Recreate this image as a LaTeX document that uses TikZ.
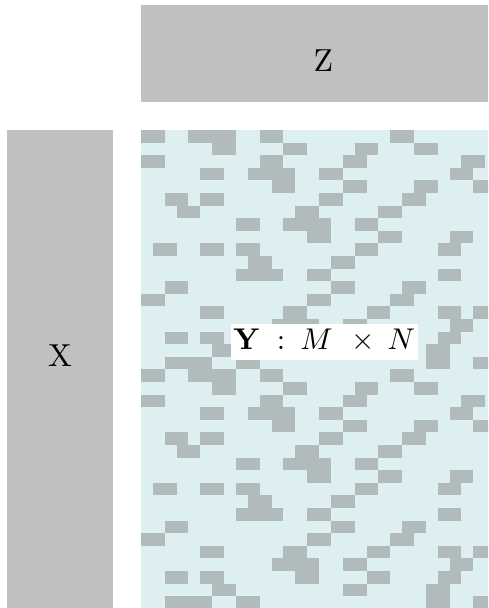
\documentclass[tikz,border=0pt]{standalone}
\usepackage{graphicx}
\definecolor{boxgray}{RGB}{192,192,192}
\definecolor{matbg}{RGB}{221,239,241}
\definecolor{cellgray}{RGB}{178,187,187}
\newcommand{\bigtxt}[1]{\scalebox{3.18}{\normalsize #1}}
\newcommand{\midtxt}[1]{\scalebox{3.0}{\normalsize #1}}
\tikzset{
  cellbox/.style={fill=cellgray},
  biglabel/.style={inner sep=0pt, anchor=base},
}
\begin{document}
\begin{tikzpicture}[x=1pt,y=-1pt]
\useasboundingbox (0,0) rectangle (488,608);
% Z box
\fill[boxgray] (141,5) rectangle (488,102);
% X box
\fill[boxgray] (7,130) rectangle (113,608);
% matrix background
\fill[matbg] (141,130) rectangle (488,608);
\begin{scope}
\clip (141,130) rectangle (488,608);
\foreach \r/\segs in {
 0/{0/2,4/8,10/12,21/23},
 1/{6/8,12/14,18/20,23/25},
 2/{0/2,10/12,17/19,27/29},
 3/{5/7,9/13,15/17,26/28},
 4/{11/13,17/19,23/25,28/30},
 5/{2/4,5/7,15/17,22/24},
 6/{3/5,13/15,20/22},
 7/{8/10,12/16,18/20},
 8/{14/16,20/22,26/28},
 9/{1/3,5/7,8/10,18/20,25/27},
 10/{9/11,16/18},
 11/{8/12,14/16,25/27},
 12/{2/4,16/18,22/24},
 13/{0/2,14/16,21/23},
 14/{5/7,12/14,19/21,25/27,28/30},
 15/{11/15,17/19,26/28},
 16/{2/4,5/7,13/15,19/21,25/27},
 17/{6/8,17/19,24/26},
 18/{2/6,8/10,24/26,28/30}} {
  \foreach \a/\b in \segs {
    \fill[cellbox] ({141+11.87*\a},{130+12.6*\r}) rectangle ({141+11.87*\b},{130+12.6*(\r+1)});
    \fill[cellbox] ({141+11.87*\a},{130+12.6*(\r+19)}) rectangle ({141+11.87*\b},{130+12.6*(\r+20)});
  }
}
\end{scope}
% labels
\node[biglabel] (zlab) at (323.3,71.7) {\bigtxt{$\mathrm{Z}$}};
\node[biglabel] (xlab) at (60,366.9) {\bigtxt{$\mathrm{X}$}};
\node[fill=white, minimum width=187pt, minimum height=36pt, inner sep=0pt] (ybox) at (324.5,342) {};
\node[biglabel] (ylab) at (324.2,349.5) {\midtxt{$\mathbf{Y}\mkern5mu:\mkern4mu M\mkern7mu\times\mkern4mu N$}};
\end{tikzpicture}
\end{document}
